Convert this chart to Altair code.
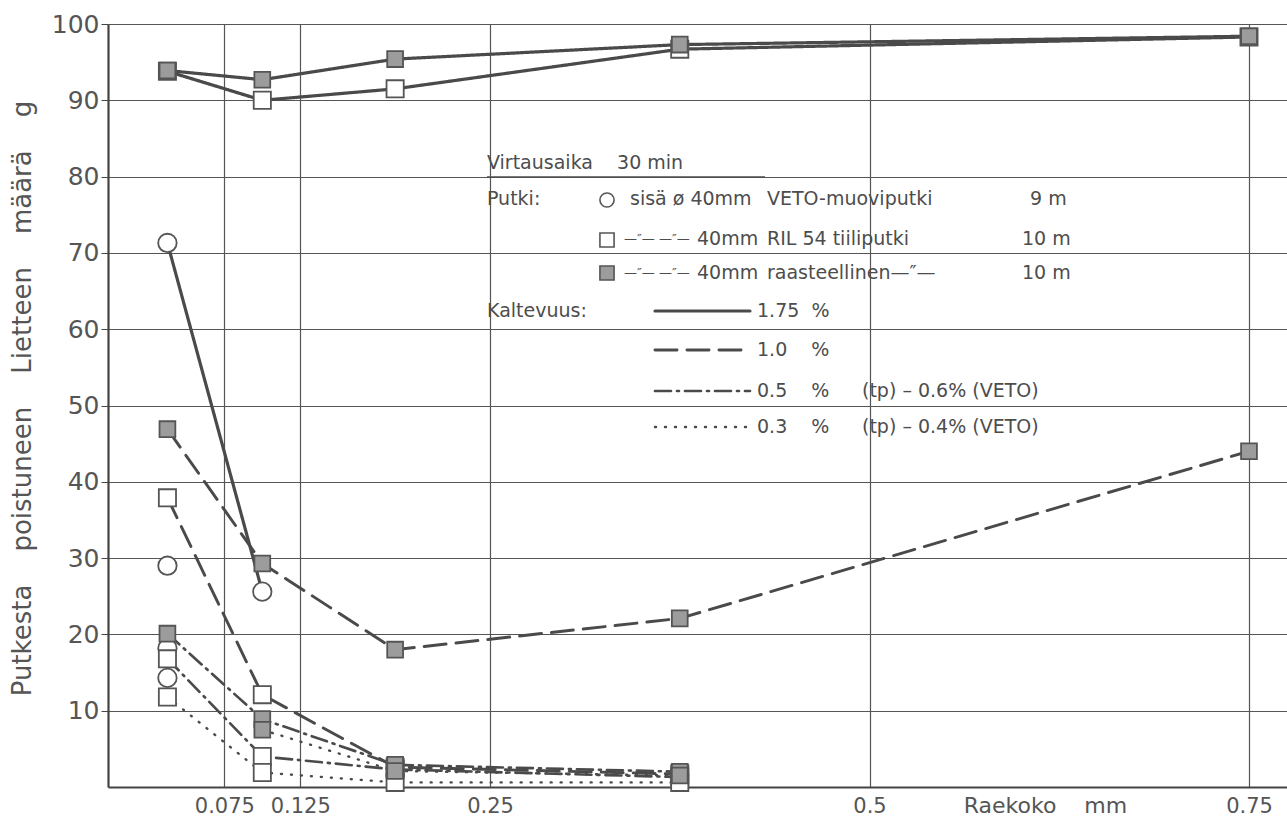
import altair as alt
import pandas as pd

# ---------------- data ----------------
# grain-size class midpoints, mm
raekoko = [0.0375, 0.1, 0.1875, 0.375, 0.75]

# VETO plastic pipe (circles)
veto_175 = [71.3, 25.6]
veto_10 = [29.0]
veto_05 = [18.2]
veto_03 = [14.3]

# RIL 54 brick pipe (open squares)
ril_175 = [93.8, 90.0, 91.5, 96.7, 98.3]
ril_10 = [37.9, 12.1, 2.6, 1.7]
ril_05 = [16.8, 4.0, 2.3, 1.3]
ril_03 = [11.8, 1.9, 0.6, 0.6]

# grated pipe (filled squares)
raa_175 = [93.9, 92.7, 95.4, 97.3, 98.4]
raa_10 = [46.9, 29.3, 18.0, 22.1, 44.0]
raa_05 = [20.1, 8.9, 2.9, 2.0]
raa_03 = [7.5, 2.1, 1.5]
raa_03_x = [0.1, 0.1875, 0.375]

kaltevuudet = ["1.75", "1.0", "0.5", "0.3"]
putket = ["VETO", "RIL", "raast"]
y_ticks = [10, 20, 30, 40, 50, 60, 70, 80, 90, 100]
x_ticks = [0.075, 0.125, 0.25, 0.5, 0.75]

series = [
    ("VETO", "1.75", raekoko, veto_175),
    ("VETO", "1.0", raekoko, veto_10),
    ("VETO", "0.5", raekoko, veto_05),
    ("VETO", "0.3", raekoko, veto_03),
    ("RIL", "1.75", raekoko, ril_175),
    ("RIL", "1.0", raekoko, ril_10),
    ("RIL", "0.5", raekoko, ril_05),
    ("RIL", "0.3", raekoko, ril_03),
    ("raast", "1.75", raekoko, raa_175),
    ("raast", "1.0", raekoko, raa_10),
    ("raast", "0.5", raekoko, raa_05),
    ("raast", "0.3", raa_03_x, raa_03),
]
rows = []
for putki, kalt, xs, ys in series:
    for x, y in zip(xs, ys):
        rows.append(dict(sarja=putki + " " + kalt, putki=putki, kaltevuus=kalt, raekoko=x, maara=y))
df = pd.DataFrame(rows)

# ---------------- layout ----------------
W, H = 1179, 763
X0, X1 = -0.00165, -0.00165 + W / 1518.0
Y0, Y1 = 0.0, 100.0
INK = "#4a4a4a"
FONT = "DejaVu Sans"
NB = "\u00a0"


def px2x(px):
    return X0 + (px - 108) * (X1 - X0) / W


def py2y(py):
    return Y1 - (py - 24) * (Y1 - Y0) / H


xs = alt.Scale(domain=[X0, X1], nice=False, zero=False)
ys = alt.Scale(domain=[Y0, Y1], nice=False, zero=False)

dash_scale = alt.Scale(domain=kaltevuudet, range=[[1, 0], [22, 10], [16, 6, 2, 6], [1, 9]])
width_scale = alt.Scale(domain=kaltevuudet, range=[3.2, 2.4, 2.2, 2.8])
shape_scale = alt.Scale(domain=putket, range=["circle", "square", "square"])
fill_scale = alt.Scale(domain=putket, range=["white", "white", "#9c9c9c"])

x_enc = alt.X(
    "raekoko:Q", scale=xs,
    axis=alt.Axis(
        values=x_ticks, format=".3~f", grid=True, ticks=False,
        labelFontSize=21, labelColor="#555", labelPadding=8, labelFont=FONT,
        title="Raekoko" + NB * 4 + "mm", titleFontSize=22, titleFontWeight="normal", titleColor="#555",
        titleFont=FONT, titleX=937, titleY=18, titleAlign="center", titleBaseline="middle",
        gridColor="#555", gridWidth=1.2, domainColor="#444", domainWidth=2.2,
    ),
)
y_enc = alt.Y(
    "maara:Q", scale=ys,
    axis=alt.Axis(
        values=y_ticks, format="d", grid=True, tickSize=7, tickColor="#444",
        labelFontSize=25, labelColor="#555", labelPadding=2, labelFont=FONT,
        title=(NB * 4).join(["Putkesta", "poistuneen", "Lietteen", "määrä", "g"]), titleFontSize=26,
        titleFontWeight="normal", titleColor="#555", titleFont=FONT,
        titleAngle=270, titleX=-86, titleY=374, titleAlign="center", titleBaseline="middle",
        gridColor="#555", gridWidth=1.2, domainColor="#444", domainWidth=2.2,
    ),
)

lines = alt.Chart(df).mark_line(color=INK, strokeCap="round").encode(
    x=x_enc, y=y_enc, detail="sarja:N",
    strokeDash=alt.StrokeDash("kaltevuus:N", scale=dash_scale, legend=None),
    strokeWidth=alt.StrokeWidth("kaltevuus:N", scale=width_scale, legend=None),
)

points = alt.Chart(df).mark_point(filled=True, stroke="#555", strokeWidth=1.8, opacity=1).encode(
    x="raekoko:Q", y="maara:Q",
    shape=alt.Shape("putki:N", scale=shape_scale, legend=None),
    fill=alt.Fill("putki:N", scale=fill_scale, legend=None),
    size=alt.Size("putki:N", scale=alt.Scale(domain=putket, range=[340, 250, 250]), legend=None),
)

# ---------------- in-plot legend ----------------
leg_text = [
    ("Virtausaika" + NB * 4 + "30" + NB + "min", 487, 163),
    ("Putki:", 487, 199),
    ("sisä ø 40mm", 630, 199),
    ("VETO-muoviputki", 767, 199),
    ("9" + NB + "m", 1030, 199),
    ("40mm", 697, 239),
    ("RIL 54 tiiliputki", 767, 239),
    ("10" + NB + "m", 1022, 239),
    ("40mm", 697, 273),
    ("raasteellinen—\u2033—", 767, 273),
    ("10" + NB + "m", 1022, 273),
    ("Kaltevuus:", 487, 311),
    ("1.75" + NB * 2 + "%", 757, 311),
    ("1.0" + NB * 4 + "%", 757, 350),
    ("0.5" + NB * 4 + "%", 757, 391),
    ("(tp)" + NB + "–" + NB + "0.6%" + NB + "(VETO)", 862, 391),
    ("0.3" + NB * 4 + "%", 757, 427),
    ("(tp)" + NB + "–" + NB + "0.4%" + NB + "(VETO)", 862, 427),
]
tdf = pd.DataFrame([dict(teksti=t, raekoko=px2x(x), maara=py2y(y)) for t, x, y in leg_text])
texts = alt.Chart(tdf).mark_text(
    align="left", baseline="middle", fontSize=19, font=FONT, color="#4d4d4d"
).encode(x="raekoko:Q", y="maara:Q", text="teksti:N")

ditto = [("—\u2033—" + NB + "—\u2033—", 624, 239), ("—\u2033—" + NB + "—\u2033—", 624, 273)]
ddf = pd.DataFrame([dict(teksti=t, raekoko=px2x(x), maara=py2y(y)) for t, x, y in ditto])
ditto_texts = alt.Chart(ddf).mark_text(
    align="left", baseline="middle", fontSize=13, font=FONT, color="#4d4d4d"
).encode(x="raekoko:Q", y="maara:Q", text="teksti:N")

leg_lines = [("1.75", 655, 750, 311), ("1.0", 655, 750, 350), ("0.5", 655, 750, 391), ("0.3", 655, 750, 427)]
ldf = pd.DataFrame([dict(kaltevuus=k, raekoko=px2x(a), r2=px2x(b), maara=py2y(y)) for k, a, b, y in leg_lines])
sample_rules = alt.Chart(ldf).mark_rule(color=INK, strokeCap="round").encode(
    x="raekoko:Q", x2="r2:Q", y="maara:Q",
    strokeDash=alt.StrokeDash("kaltevuus:N", scale=dash_scale, legend=None),
    strokeWidth=alt.StrokeWidth("kaltevuus:N", scale=width_scale, legend=None),
)

udf = pd.DataFrame([dict(raekoko=px2x(487), r2=px2x(765), maara=py2y(177))])
underline = alt.Chart(udf).mark_rule(color="#4d4d4d", strokeWidth=1.6).encode(
    x="raekoko:Q", x2="r2:Q", y="maara:Q"
)

leg_sym = [("VETO", 607, 200), ("RIL", 607, 240), ("raast", 607, 273)]
sdf = pd.DataFrame([dict(putki=p, raekoko=px2x(x), maara=py2y(y)) for p, x, y in leg_sym])
symbols = alt.Chart(sdf).mark_point(filled=True, stroke="#555", strokeWidth=1.6, opacity=1).encode(
    x="raekoko:Q", y="maara:Q",
    shape=alt.Shape("putki:N", scale=shape_scale, legend=None),
    fill=alt.Fill("putki:N", scale=fill_scale, legend=None),
    size=alt.value(200),
)

chart = alt.layer(lines, points, sample_rules, underline, symbols, texts, ditto_texts).properties(
    width=W, height=H,
    autosize=alt.AutoSizeParams(type="none"),
    padding={"left": 108, "top": 24, "right": 0, "bottom": 38},
    background="white",
).configure_view(stroke=None)

chart.save("out.html", embed_options={"renderer": "svg", "actions": False})
